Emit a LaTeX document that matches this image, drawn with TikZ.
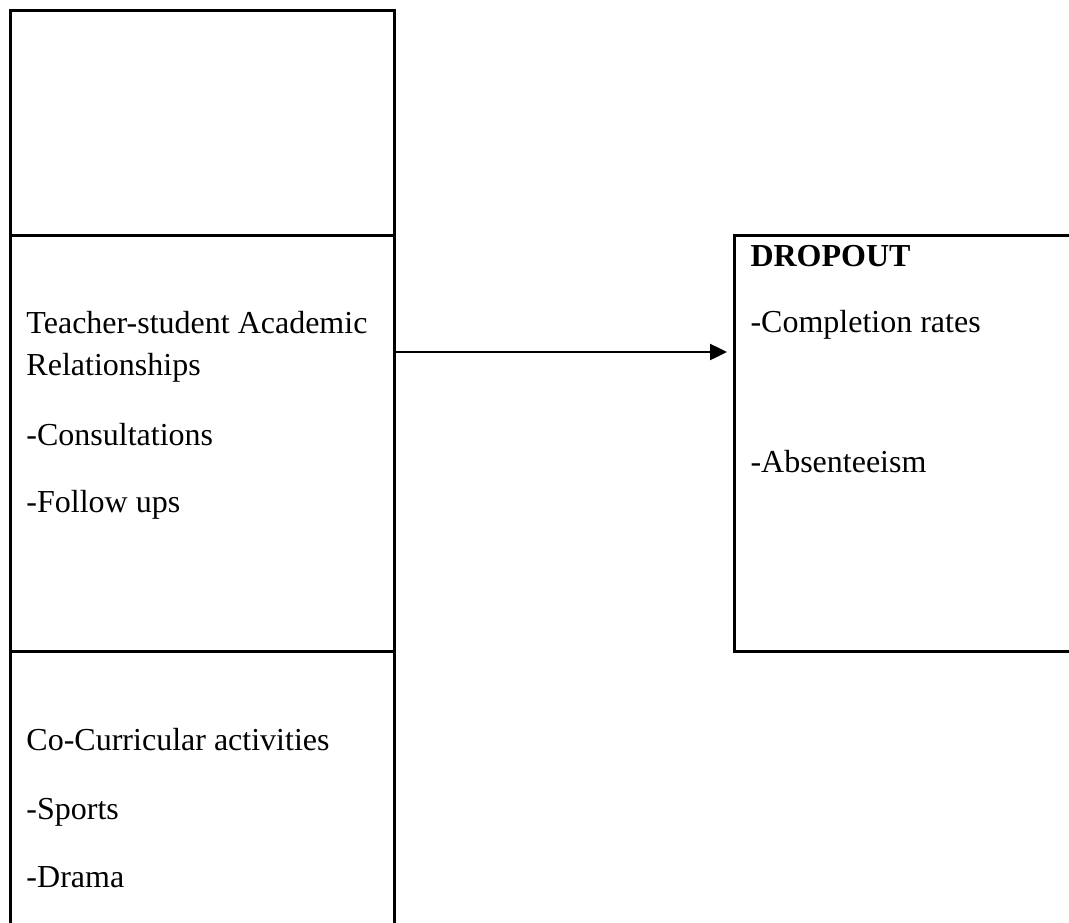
\documentclass[tikz,border=0pt]{standalone}
\usepackage{fontspec}
\setmainfont{Liberation Serif}
\usetikzlibrary{arrows.meta}
\begin{document}
\begin{tikzpicture}[x=1pt, y=-1pt, line width=3pt,
    txt/.style = {anchor=base west, inner sep=0pt, font=\fontsize{32}{38}\selectfont}]

    \useasboundingbox (0,0) rectangle (1069,922);
    \clip (0,0) rectangle (1069,922);

    \node[txt] (tsa) at (25, 333) {Teacher-student Academic};
    \node[txt] (rel) at (25, 375) {Relationships};
    \node[txt] (cons) at (25, 445) {-Consultations};
    \node[txt] (fol) at (25, 512) {-Follow ups};

    \node[txt] (cca) at (25, 750) {Co-Curricular activities};
    \node[txt] (spo) at (25, 819) {-Sports};
    \node[txt] (dra) at (25, 887) {-Drama};

    \node[txt, font=\fontsize{32}{38}\selectfont\bfseries] (drop) at (749, 266) {DROPOUT};
    \node[txt] (comp) at (749, 332) {-Completion rates};
    \node[txt] (abs) at (749, 472) {-Absenteeism};

    \coordinate (from) at (394, 352);
    \coordinate (to) at (727, 352);

    \draw (10, 940) -- (10, 10) -- (394, 10) -- (394, 940);
    \draw (10, 235) -- (394, 235);
    \draw (10, 651) -- (394, 651);

    \draw (1080, 235) -- (734, 235) -- (734, 651) -- (1080, 651);

    \draw [line width=2.5pt, -{Triangle[length=17pt, width=16pt]}] (from) -- (to);

\end{tikzpicture}
\end{document}
